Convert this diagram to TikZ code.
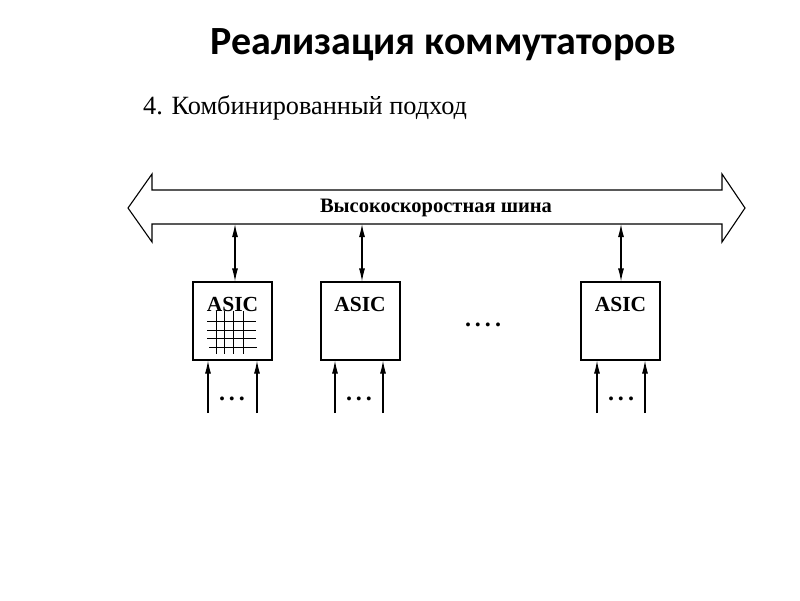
\documentclass[tikz,border=0pt]{standalone}
\usepackage{fontspec}
\setmainfont{Liberation Serif}
\newfontfamily\titlefont{Carlito}
\usetikzlibrary{arrows.meta}
\begin{document}
\begin{tikzpicture}[x=1pt,y=-1pt,
  ln/.style={line width=1.1pt},
  asicbox/.style={draw,line width=1.1pt,minimum width=79pt,minimum height=78pt,inner sep=0pt},
  asiclbl/.style={font=\bfseries\fontsize{21.5}{21.5}\selectfont,inner sep=0pt},
  tip/.style={-{Latex[length=13pt,width=6pt]}},
  dtip/.style={{Latex[length=13pt,width=6pt]}-{Latex[length=13pt,width=6pt]}},
  dots/.style={font=\bfseries\fontsize{24}{24}\selectfont,inner sep=0pt}]
\useasboundingbox (0,0) rectangle (800,600);
\node[font=\titlefont\bfseries\fontsize{40}{40}\selectfont,inner sep=0pt] (title) at (443,45) {Реализация коммутаторов};
\node[font=\fontsize{26.3}{26.3}\selectfont,inner sep=0pt,anchor=west] (sub) at (143,108) {4. Комбинированный подход};
% bus
\draw[ln] (128,208) -- (152,174) -- (152,190) -- (722,190) -- (722,174) -- (745,208)
  -- (722,242) -- (722,224) -- (152,224) -- (152,242) -- cycle;
\node[font=\bfseries\fontsize{20.5}{20.5}\selectfont,inner sep=0pt] (bus) at (436,208) {Высокоскоростная шина};
\coordinate (b1) at (235,224);
\coordinate (b2) at (362,224);
\coordinate (b3) at (621,224);
% boxes
\node[asicbox] (a1) at (232.5,321) {};
\node[asicbox] (a2) at (360.5,321) {};
\node[asicbox] (a3) at (620.5,321) {};
\node[asiclbl] (l1) at (232.5,304) {ASIC};
\node[asiclbl] (l2) at (360,304) {ASIC};
\node[asiclbl] (l3) at (620.5,304) {ASIC};
\draw[ln,dtip] (b1) -- (b1 |- a1.north);
\draw[ln,dtip] (b2) -- (b2 |- a2.north);
\draw[ln,dtip] (b3) -- (b3 |- a3.north);
% grid
\foreach \y in {321,330,338} \draw[line width=0.9pt] (207,\y) -- (256,\y);
\draw[line width=0.9pt] (209,347) -- (257,347);
\foreach \x in {216,224,233,243} \draw[line width=0.9pt] (\x,311) -- (\x,354);
% inputs
\coordinate (i11) at (208,413); \coordinate (i12) at (257,413);
\coordinate (i21) at (335,413); \coordinate (i22) at (383,413);
\coordinate (i31) at (597,413); \coordinate (i32) at (645,413);
\draw[ln,tip] (i11) -- (i11 |- a1.south);
\draw[ln,tip] (i12) -- (i12 |- a1.south);
\draw[ln,tip] (i21) -- (i21 |- a2.south);
\draw[ln,tip] (i22) -- (i22 |- a2.south);
\draw[ln,tip] (i31) -- (i31 |- a3.south);
\draw[ln,tip] (i32) -- (i32 |- a3.south);
\node[dots] (d1) at (232,399) {.\kern4pt.\kern4pt.};
\node[dots] (d2) at (359,399) {.\kern4pt.\kern4pt.};
\node[dots] (d3) at (621,399) {.\kern4pt.\kern4pt.};
\node[dots] (dm) at (483,325) {.\kern4pt.\kern4pt.\kern4pt.};
\end{tikzpicture}
\end{document}
